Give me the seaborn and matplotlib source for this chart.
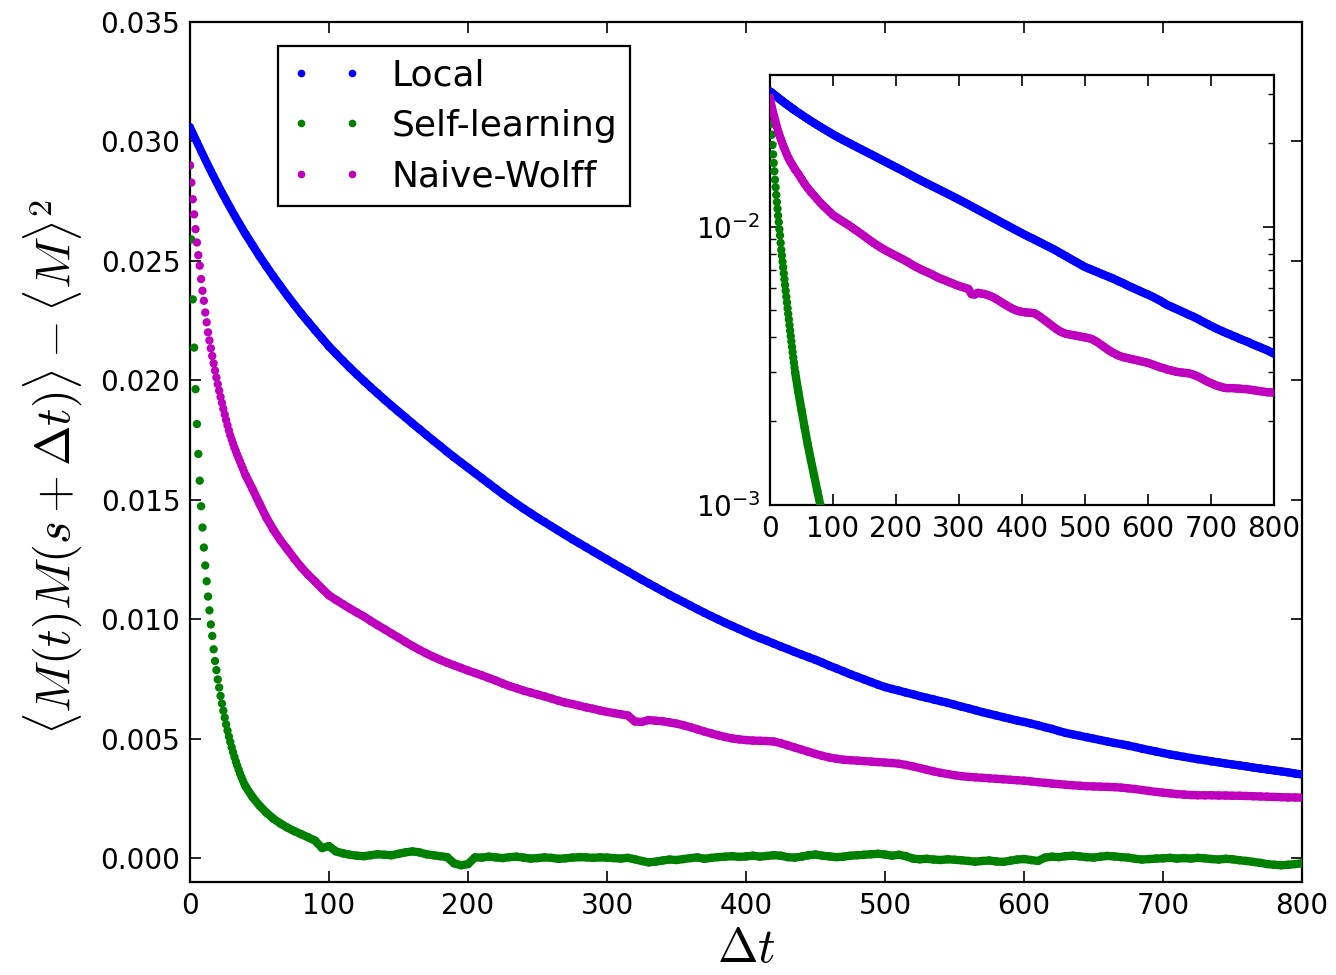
import numpy as np
import pandas as pd
import matplotlib
matplotlib.use("Agg")
import matplotlib.pyplot as plt
import seaborn as sns
from matplotlib.lines import Line2D
from matplotlib.ticker import FormatStrFormatter, LogLocator

# ---------------- data ----------------
series_names = ["Local", "Self-learning", "Naive-Wolff"]

t_values = list(range(0, 41)) + list(range(45, 801, 5))

local_values = [
    0.0306, 0.03047, 0.03035, 0.03022, 0.0301, 0.02997, 0.02985, 0.02973, 0.0296, 0.02948,
    0.02936, 0.02924, 0.02912, 0.029, 0.02888, 0.02877, 0.02865, 0.02854, 0.02842, 0.02831,
    0.0282, 0.02808, 0.02797, 0.02786, 0.02775, 0.02765, 0.02754, 0.02743, 0.02733, 0.02722,
    0.02712, 0.02701, 0.02691, 0.02681, 0.02671, 0.02661, 0.02651, 0.02641, 0.02631, 0.02621,
    0.02612,
    0.02566, 0.0252, 0.02477, 0.02435, 0.02395, 0.02355, 0.02317, 0.0228, 0.02245, 0.0221,
    0.02176, 0.02142, 0.02112, 0.02082, 0.02053, 0.02025, 0.01998, 0.01971, 0.01945, 0.01919,
    0.01894, 0.01869, 0.01845, 0.0182, 0.01796, 0.01772, 0.01748, 0.01725, 0.01701, 0.01678,
    0.01656, 0.01634, 0.01612, 0.0159, 0.01568, 0.01546, 0.01524, 0.01503, 0.01483, 0.01463,
    0.01444, 0.01425, 0.01407, 0.01389, 0.01371, 0.01353, 0.01335, 0.01318, 0.01301, 0.01284,
    0.01267, 0.0125, 0.01233, 0.01216, 0.012, 0.01183, 0.01166, 0.0115, 0.01134, 0.01118,
    0.01102, 0.01087, 0.01072, 0.01057, 0.01042, 0.01027, 0.01013, 0.00999, 0.00985, 0.00972,
    0.00959, 0.00946, 0.00933, 0.00921, 0.0091, 0.00898, 0.00886, 0.00875, 0.00863, 0.00852,
    0.00841, 0.0083, 0.00818, 0.00805, 0.00794, 0.00782, 0.0077, 0.00759, 0.00748, 0.00737,
    0.00726, 0.00716, 0.00708, 0.00701, 0.00693, 0.00686, 0.00678, 0.00671, 0.00664, 0.00657,
    0.0065, 0.00642, 0.00634, 0.00627, 0.00619, 0.00611, 0.00604, 0.00597, 0.0059, 0.00583,
    0.00576, 0.0057, 0.00563, 0.00556, 0.00548, 0.00541, 0.00532, 0.00524, 0.00518, 0.00512,
    0.00506, 0.005, 0.00494, 0.00488, 0.00482, 0.00477, 0.00471, 0.00465, 0.00458, 0.00452,
    0.00446, 0.0044, 0.00434, 0.00429, 0.00424, 0.00419, 0.00414, 0.0041, 0.00405, 0.00401,
    0.00396, 0.00392, 0.00388, 0.00384, 0.00379, 0.00375, 0.00371, 0.00367, 0.00363, 0.00359,
    0.00354, 0.0035,
]

self_learning_values = [
    0.029, 0.0259, 0.02339, 0.02137, 0.01963, 0.01817, 0.01692, 0.0158, 0.01473, 0.01384,
    0.013, 0.01225, 0.01159, 0.01095, 0.01037, 0.00978, 0.0093, 0.00874, 0.00825, 0.00787,
    0.00748, 0.00714, 0.00679, 0.00647, 0.00617, 0.00588, 0.0056, 0.00534, 0.00509, 0.00486,
    0.00464, 0.00443, 0.00423, 0.00404, 0.00387, 0.0037, 0.00354, 0.00339, 0.00325, 0.00312,
    0.003,
    0.00255, 0.0022, 0.0019, 0.00165, 0.00145, 0.00128, 0.00113, 0.001, 0.00087, 0.00073,
    0.00042, 0.0005, 0.00028, 0.0002, 0.00014, 0.0001, 0.00008, 0.00012, 0.00016, 0.00014,
    0.00012, 0.00018, 0.00024, 0.00028, 0.00024, 0.00016, 0.00012, 0.00008, 0.00004, -0.00022,
    -0.0003, -0.00025, 0.00003, 0.00002, 0.00006, 0.00003, 0.0, 0.00004, 0.00006, 0.00002,
    -0.00002, 0.0, 0.00003, 0.00001, -0.00003, -0.00001, 0.00002, 0.00004, 0.00003, 0.00001,
    0.00003, 0.00002, 0.0, -0.00002, 0.00001, -0.00005, -0.00012, -0.00018, -0.00015, -0.0001,
    -0.00006, -0.00008, -0.00004, 0.0, 0.00003, -0.00003, 0.00001, 0.00004, 0.00006, 0.00008,
    0.00005, 0.00007, 0.0001, 0.00006, 0.00009, 0.00012, 0.0001, 0.00004, 0.00002, 0.00006,
    0.00012, 0.00015, 0.0001, 0.00007, 0.00004, 0.00006, 0.0001, 0.00012, 0.00014, 0.00016,
    0.00018, 0.00015, 0.0001, 0.00014, 0.00008, -0.00002, -0.00005, -0.00003, -0.00006, -0.00008,
    -0.00005, -0.00007, -0.00009, -0.00012, -0.00015, -0.00012, -0.0001, -0.00014, -0.00016, -0.00011,
    -0.00006, -0.00004, -0.00008, -0.00012, 0.00002, 0.00006, 0.00004, 0.00008, 0.0001, 0.00007,
    0.00004, 0.00002, 0.00006, 0.00009, 0.00007, 0.00004, 0.00002, -0.00003, -0.00006, -0.00004,
    -0.00002, -0.00001, 0.00001, -0.00002, 0.0, -0.00002, 0.00001, -0.00001, -0.00004, -0.00006,
    -0.00003, -0.00005, -0.00009, -0.00012, -0.00016, -0.0002, -0.00025, -0.00028, -0.0003, -0.00028,
    -0.00025, -0.00022,
]

naive_wolff_values = [
    0.0290, 0.02828, 0.02758, 0.02695, 0.02633, 0.02577, 0.02524, 0.0248, 0.02424, 0.02375,
    0.02333, 0.02284, 0.02243, 0.02201, 0.02167, 0.02134, 0.02102, 0.02071, 0.02041, 0.02012,
    0.01984, 0.01957, 0.01931, 0.01906, 0.01881, 0.01857, 0.01834, 0.01812, 0.0179, 0.0177,
    0.01752, 0.01735, 0.01718, 0.01703, 0.01688, 0.01674, 0.0166, 0.01645, 0.01631, 0.01617,
    0.01603,
    0.01545, 0.01484, 0.01425, 0.01375, 0.01331, 0.01293, 0.01254, 0.01218, 0.01186, 0.01158,
    0.01128, 0.011, 0.01081, 0.01063, 0.01045, 0.01028, 0.01012, 0.00993, 0.00975, 0.00958,
    0.0094, 0.00923, 0.00905, 0.00888, 0.00872, 0.00857, 0.00843, 0.0083, 0.00818, 0.00807,
    0.00796, 0.00785, 0.00775, 0.00765, 0.00754, 0.00743, 0.00731, 0.0072, 0.00711, 0.00701,
    0.00693, 0.00685, 0.00677, 0.00668, 0.00659, 0.00651, 0.00645, 0.00638, 0.00631, 0.00625,
    0.00618, 0.00612, 0.00607, 0.00602, 0.00597, 0.00572, 0.0057, 0.00578, 0.00575, 0.00573,
    0.00568, 0.00563, 0.00556, 0.00548, 0.00539, 0.0053, 0.00522, 0.00514, 0.00507, 0.00501,
    0.00497, 0.00494, 0.00492, 0.00491, 0.0049, 0.00488, 0.00481, 0.00472, 0.00463, 0.00454,
    0.00445, 0.00436, 0.00428, 0.00421, 0.00416, 0.00412, 0.0041, 0.00408, 0.00406, 0.00404,
    0.00402, 0.004, 0.00398, 0.00395, 0.0039, 0.00384, 0.00377, 0.0037, 0.00363, 0.00357,
    0.00352, 0.00347, 0.00343, 0.0034, 0.00338, 0.00336, 0.00334, 0.00332, 0.0033, 0.00328,
    0.00326, 0.00324, 0.00321, 0.00318, 0.00315, 0.00312, 0.0031, 0.00307, 0.00305, 0.00303,
    0.00301, 0.003, 0.00299, 0.00298, 0.00297, 0.00295, 0.00292, 0.00289, 0.00285, 0.00281,
    0.00277, 0.00274, 0.00271, 0.00268, 0.00266, 0.00264, 0.00263, 0.00263, 0.00263, 0.00262,
    0.00262, 0.00261, 0.00261, 0.0026, 0.00259, 0.00258, 0.00257, 0.00256, 0.00255, 0.00254,
    0.00254, 0.00253,
]

x_ticks = [0, 100, 200, 300, 400, 500, 600, 700, 800]
y_ticks = [0.000, 0.005, 0.010, 0.015, 0.020, 0.025, 0.030, 0.035]

# ---------------- build long table ----------------
frames = []
for name, vals in zip(series_names, [local_values, self_learning_values, naive_wolff_values]):
    frames.append(pd.DataFrame({"t": t_values, "value": vals, "series": name}))
df = pd.concat(frames, ignore_index=True)

palette = {"Local": "#0000ff", "Self-learning": "#008000", "Naive-Wolff": "#bf00bf"}

# ---------------- style ----------------
sns.set_style("ticks")
plt.rcParams["font.family"] = ["DejaVu Sans"]
plt.rcParams["mathtext.fontset"] = "dejavusans"
for key in ["text.color", "axes.labelcolor", "xtick.color", "ytick.color"]:
    plt.rcParams[key] = "black"

DOT = 36      # marker area (pt^2)
BAND = 6.0    # width of the dense dotted band (pt)


def draw_series(axis, data):
    # dense stretch of the sampled dots drawn as a band, individual dots on top
    sns.lineplot(data=data[data["t"] >= 40], x="t", y="value", hue="series",
                 hue_order=series_names, palette=palette, linewidth=BAND,
                 legend=False, ax=axis, solid_capstyle="round",
                 solid_joinstyle="round", estimator=None)
    sns.scatterplot(data=data, x="t", y="value", hue="series", hue_order=series_names,
                    palette=palette, s=DOT, linewidth=0, legend=False, ax=axis,
                    zorder=3)


fig = plt.figure(figsize=(13.36, 9.75), dpi=100)
ax = fig.add_axes([0.1422, 0.0954, 0.8324, 0.882])
draw_series(ax, df)

ax.set_xlim(0, 800)
ax.set_ylim(-0.001, 0.035)
ax.set_xticks(x_ticks)
ax.set_yticks(y_ticks)
ax.yaxis.set_major_formatter(FormatStrFormatter("%.3f"))
ax.tick_params(direction="in", length=8, width=1.2, top=True, right=True,
               labelsize=20, pad=7)
for sp in ax.spines.values():
    sp.set_linewidth(1.6)
    sp.set_color("black")

ax.set_xlabel(r"$\Delta t$", fontsize=35, math_fontfamily="cm", labelpad=3)
ax.set_ylabel(r"$\langle M(t)M(s+\Delta t)\rangle - \langle M\rangle^2$",
              fontsize=35, math_fontfamily="cm")
ax.yaxis.set_label_coords(-0.095, 0.483)

handles = [Line2D([], [], marker="o", linestyle="none", color=palette[n],
                  markersize=5.5, markeredgewidth=0) for n in series_names]
leg = ax.legend(handles, series_names, loc="upper left", bbox_to_anchor=(0.079, 0.972),
                borderaxespad=0, numpoints=2, handlelength=2.0, handletextpad=0.8,
                fontsize=26, frameon=True, fancybox=False, framealpha=1,
                edgecolor="black", borderpad=0.35, labelspacing=0.45)
leg.get_frame().set_linewidth(1.6)

# ---------------- inset ----------------
ax_in = fig.add_axes([0.5763, 0.482, 0.3773, 0.441])
draw_series(ax_in, df[df["value"] > 0])
ax_in.set_yscale("log")
ax_in.set_xlim(0, 800)
ax_in.set_ylim(1e-3, 0.035)
ax_in.set_xticks(x_ticks)
ax_in.yaxis.set_major_locator(LogLocator(base=10))
ax_in.yaxis.set_minor_locator(LogLocator(base=10, subs=np.arange(2, 10)))
ax_in.set_xlabel("")
ax_in.set_ylabel("")
ax_in.tick_params(which="major", direction="in", length=8, width=1.2, top=True,
                  right=True, labelsize=20, pad=7)
ax_in.tick_params(which="minor", direction="in", length=4, width=1.0, top=True,
                  right=True)
for sp in ax_in.spines.values():
    sp.set_linewidth(1.6)
    sp.set_color("black")

fig.savefig("out.png", dpi=100, facecolor="white")
